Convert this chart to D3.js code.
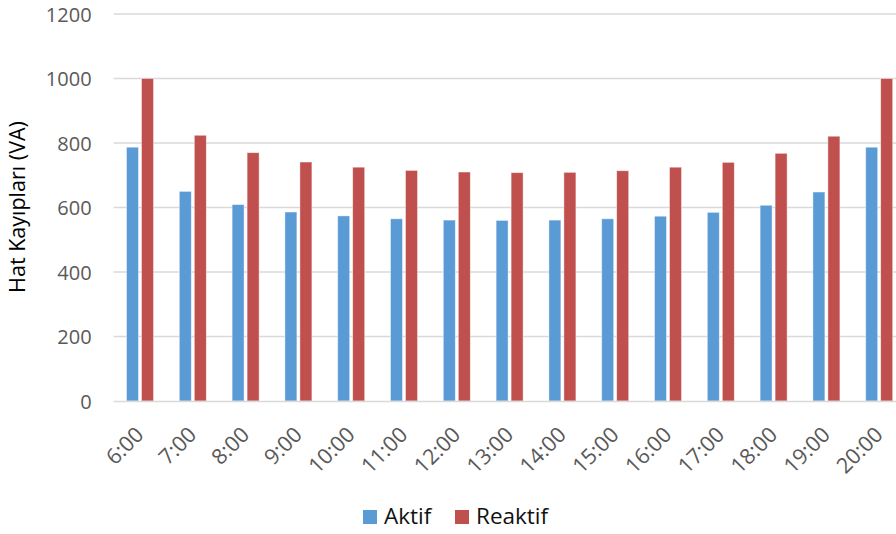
<!DOCTYPE html>
<html>
<head>
<meta charset="utf-8">
<script src="https://cdn.jsdelivr.net/npm/d3@7"></script>
<style>
  html, body { margin: 0; padding: 0; background: #fff; }
  svg { display: block; }
</style>
</head>
<body>
<svg id="chart" width="896" height="534"></svg>
<script>
// Hourly line losses (VA), active vs reactive
const hours = ["6:00","7:00","8:00","9:00","10:00","11:00","12:00","13:00","14:00","15:00","16:00","17:00","18:00","19:00","20:00"];
const aktif = [787, 650, 609, 586, 574, 565, 561, 560, 561, 565, 573, 585, 607, 648, 787];
const reaktif = [1000, 824, 770, 741, 725, 715, 710, 708, 709, 714, 725, 740, 768, 821, 1000];
const seriesNames = ["Aktif", "Reaktif"];
const seriesColors = ["#5B9BD5", "#C0504D"];
const yTicks = [0, 200, 400, 600, 800, 1000, 1200];

const svg = d3.select("#chart");
const font = "'Open Sans', 'Liberation Sans', sans-serif";

const plotLeft = 113.6, plotRight = 905.6, plotTop = 14, plotBottom = 401;

const y = d3.scaleLinear().domain([0, 1200]).range([plotBottom, plotTop]);

const pi = 0.4886;
const x0 = d3.scaleBand().domain(hours).range([plotLeft, plotRight])
  .paddingInner(pi).paddingOuter(pi / 2);
const x1 = d3.scaleBand().domain(seriesNames).range([0, x0.bandwidth()]).paddingInner(0.2);

// gridlines
svg.append("g")
  .selectAll("line")
  .data(yTicks.filter(t => t > 0))
  .join("line")
  .attr("x1", plotLeft).attr("x2", 896)
  .attr("y1", d => y(d)).attr("y2", d => y(d))
  .attr("stroke", "#D9D9D9").attr("stroke-width", 1.5);

// y axis labels
const yAxis = svg.append("g")
  .attr("transform", `translate(${plotLeft - 22},0)`)
  .call(d3.axisLeft(y).tickValues(yTicks).tickFormat(d3.format("d")).tickSize(0).tickPadding(0));
yAxis.select(".domain").remove();
yAxis.selectAll("text")
  .attr("font-family", font).attr("font-size", 20).attr("fill", "#595959")
  .attr("dy", "0.35em");

// bars
const rows = hours.map((h, i) => ({ hour: h, values: [aktif[i], reaktif[i]] }));
const groups = svg.append("g").selectAll("g")
  .data(rows).join("g")
  .attr("transform", d => `translate(${x0(d.hour)},0)`);
groups.selectAll("rect")
  .data(d => d.values.map((v, k) => ({ name: seriesNames[k], value: v, k })))
  .join("rect")
  .attr("x", d => x1(d.name))
  .attr("width", x1.bandwidth())
  .attr("y", d => y(d.value))
  .attr("height", d => y(0) - y(d.value))
  .attr("fill", d => seriesColors[d.k])
  .attr("stroke", "rgba(255,255,255,0.55)")
  .attr("stroke-width", 0.8);

// x axis line
svg.append("line")
  .attr("x1", plotLeft).attr("x2", 896)
  .attr("y1", plotBottom + 0.5).attr("y2", plotBottom + 0.5)
  .attr("stroke", "#D9D9D9").attr("stroke-width", 1.5);

// x axis labels, rotated
const xAxis = svg.append("g")
  .attr("transform", `translate(0,${plotBottom})`)
  .call(d3.axisBottom(x0).tickSize(0).tickPadding(0));
xAxis.select(".domain").remove();
xAxis.selectAll("text")
  .attr("font-family", font).attr("font-size", 21.5).attr("fill", "#595959")
  .attr("text-anchor", "end")
  .attr("dy", "0")
  .attr("transform", "translate(5,35) rotate(-45)");

// y axis title
svg.append("text")
  .attr("transform", `translate(25,207) rotate(-90)`)
  .attr("text-anchor", "middle")
  .attr("font-family", font).attr("font-size", 21.5).attr("fill", "#000")
  .text("Hat Kayıpları (VA)");

// legend
const legend = svg.append("g");
const legendItems = [
  { name: "Aktif", color: seriesColors[0], x: 363 },
  { name: "Reaktif", color: seriesColors[1], x: 455 }
];
legendItems.forEach(it => {
  legend.append("rect")
    .attr("x", it.x).attr("y", 510).attr("width", 14).attr("height", 14)
    .attr("fill", it.color);
  legend.append("text")
    .attr("x", it.x + 21).attr("y", 524)
    .attr("font-family", font).attr("font-size", 22.5).attr("fill", "#111")
    .text(it.name);
});
</script>
</body>
</html>
